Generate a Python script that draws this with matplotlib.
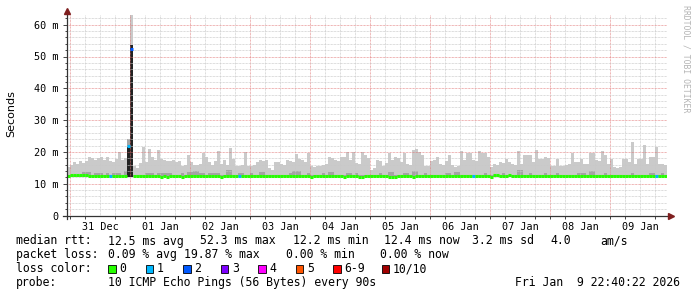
import matplotlib
matplotlib.use("Agg")
import matplotlib.pyplot as plt
import matplotlib.dates as mdates
from matplotlib.lines import Line2D
from matplotlib.patches import Rectangle
from datetime import datetime, timedelta
import numpy as np

# ---- data ----
start = datetime(2025, 12, 30, 22, 40, 22)
step_min = 72          # one smoke column = 72 minutes
smoke_floor = 12.0     # fastest ping, ms

# upper edge of the light smoke per step (ms)
smoke_hi = [
    15.2, 15.8, 16.8, 16.2, 17.2, 16.5, 17.0, 18.5, 18.0, 17.6,
    18.0, 18.3, 17.5, 18.5, 17.0, 16.8, 17.8, 20.0, 17.5, 18.2,
    24.0, 63.0, 15.5, 15.0, 16.6, 21.5, 16.8, 20.8, 18.3, 17.5,
    20.5, 17.7, 17.5, 17.0, 17.0, 17.3, 16.8, 17.0, 15.7, 16.0,
    18.9, 16.8, 16.0, 15.8, 16.2, 19.7, 18.5, 16.8, 16.0, 17.2,
    20.4, 16.2, 17.5, 16.0, 21.2, 17.8, 15.7, 15.5, 16.0, 20.0,
    15.7, 15.5, 16.0, 16.8, 17.3, 17.0, 17.3, 15.0, 14.2, 16.7,
    16.8, 16.2, 16.0, 17.3, 17.0, 16.7, 19.2, 17.8, 17.6, 16.7,
    19.5, 15.5, 15.3, 15.7, 15.5, 15.8, 16.2, 18.3, 18.0, 17.3,
    17.0, 18.3, 18.3, 20.0, 17.5, 20.0, 16.5, 16.3, 20.0, 18.9,
    18.0, 14.2, 15.0, 17.3, 17.0, 15.7, 16.5, 19.7, 17.3, 18.3,
    18.0, 16.7, 19.8, 16.2, 16.0, 20.5, 20.8, 20.0, 18.9, 15.7,
    15.5, 17.0, 17.3, 18.3, 16.2, 16.0, 17.0, 18.9, 16.0, 15.2,
    15.7, 20.4, 17.3, 19.7, 19.5, 17.3, 17.0, 20.4, 19.8, 19.7,
    18.5, 15.2, 16.2, 16.0, 16.7, 16.5, 17.8, 16.7, 16.2, 16.0,
    20.4, 16.2, 18.9, 18.9, 19.0, 16.7, 20.6, 17.8, 17.8, 18.3,
    18.0, 15.7, 15.5, 17.8, 15.7, 15.5, 15.8, 16.2, 19.7, 16.7,
    16.7, 17.8, 16.2, 16.2, 19.7, 19.5, 17.3, 17.0, 20.4, 18.9,
    16.2, 17.8, 15.2, 15.0, 15.2, 17.8, 17.8, 16.7, 23.1, 16.2,
    17.8, 17.8, 22.3, 16.2, 18.3, 18.3, 21.5, 16.2, 16.2, 16.0,
]

# upper edge of the denser (darker) smoke per step (ms)
smoke_mid = [
    12.8, 12.8, 12.8, 12.8, 12.8, 13.6, 13.6, 13.6, 12.8, 13.3,
    13.3, 13.3, 12.8, 13.4, 12.8, 13.5, 13.5, 13.5, 12.8, 14.0,
    24.0, 53.5, 12.8, 12.8, 12.8, 12.8, 13.5, 13.5, 13.5, 12.8,
    13.4, 13.4, 13.4, 13.3, 13.3, 12.8, 12.8, 12.8, 13.5, 12.8,
    13.6, 13.6, 14.0, 14.0, 13.3, 13.5, 12.8, 13.4, 13.4, 13.4,
    13.4, 12.8, 12.8, 14.2, 14.2, 12.8, 12.8, 13.4, 13.4, 12.8,
    12.8, 13.3, 12.8, 12.8, 13.8, 13.8, 12.8, 12.8, 12.8, 12.8,
    12.8, 12.8, 12.8, 12.8, 13.4, 14.0, 14.0, 14.0, 12.8, 12.8,
    13.4, 12.8, 12.8, 12.8, 12.8, 13.3, 12.8, 13.6, 13.6, 12.8,
    12.8, 12.8, 12.8, 13.5, 13.5, 12.8, 13.3, 12.8, 12.8, 12.8,
    12.8, 12.8, 12.8, 12.8, 13.4, 12.8, 12.8, 13.8, 13.8, 12.8,
    12.8, 12.8, 13.5, 13.5, 12.8, 14.0, 14.0, 12.8, 12.8, 13.3,
    12.8, 12.8, 12.8, 12.8, 12.8, 12.8, 13.5, 13.5, 12.8, 13.8,
    13.8, 12.8, 12.8, 12.8, 12.8, 12.8, 12.8, 12.8, 12.8, 13.4,
    12.8, 12.8, 12.8, 12.8, 12.8, 13.3, 12.8, 12.8, 12.8, 12.8,
    14.2, 14.2, 12.8, 12.8, 13.4, 12.8, 12.8, 12.8, 12.8, 13.3,
    12.8, 12.8, 12.8, 13.4, 12.8, 12.8, 12.8, 12.8, 12.8, 12.8,
    13.5, 13.5, 13.5, 12.8, 14.0, 14.0, 12.8, 12.8, 12.8, 13.3,
    12.8, 12.8, 12.8, 12.8, 12.8, 12.8, 12.8, 12.8, 13.5, 12.8,
    12.8, 12.8, 12.8, 12.8, 13.5, 13.5, 12.8, 12.8, 13.3, 12.8,
]

# the outage spike: nearly black core of the smoke
core_steps = [20, 21]
core_top = [21.5, 53.5]

# median rtt per step (ms)
median = [
    12.4, 12.6, 12.6, 12.6, 12.6, 12.6, 12.6, 12.4, 12.4, 12.4,
    12.4, 12.4, 12.4, 12.4, 12.3, 12.4, 12.4, 12.4, 12.4, 12.4,
    22.0, 52.3, 12.4, 12.4, 12.4, 12.4, 12.4, 12.4, 12.4, 12.4,
    12.4, 12.1, 12.4, 12.1, 12.4, 12.4, 12.4, 12.4, 12.1, 12.4,
    12.4, 12.4, 12.4, 12.4, 12.4, 12.4, 12.4, 12.4, 12.4, 12.4,
    12.4, 12.1, 12.4, 12.4, 12.4, 12.4, 12.4, 12.3, 12.4, 12.4,
    12.4, 12.4, 12.4, 12.4, 12.4, 12.4, 12.4, 12.4, 12.4, 12.4,
    12.4, 12.4, 12.4, 12.4, 12.4, 12.4, 12.4, 12.4, 12.4, 12.4,
    12.4, 12.1, 12.4, 12.4, 12.4, 12.4, 12.4, 12.4, 12.4, 12.4,
    12.4, 12.4, 12.1, 12.4, 12.4, 12.4, 12.4, 12.1, 12.1, 12.4,
    12.4, 12.4, 12.4, 12.4, 12.4, 12.4, 12.4, 12.1, 12.1, 12.1,
    12.4, 12.4, 12.4, 12.4, 12.4, 12.1, 12.4, 12.4, 12.4, 12.4,
    12.4, 12.4, 12.4, 12.4, 12.4, 12.4, 12.4, 12.4, 12.4, 12.4,
    12.4, 12.4, 12.4, 12.4, 12.4, 12.4, 12.4, 12.4, 12.4, 12.4,
    12.4, 12.1, 12.6, 12.6, 12.4, 12.4, 12.4, 12.6, 12.4, 12.4,
    12.4, 12.4, 12.4, 12.4, 12.4, 12.4, 12.4, 12.4, 12.4, 12.4,
    12.4, 12.4, 12.4, 12.4, 12.4, 12.4, 12.4, 12.4, 12.4, 12.4,
    12.4, 12.4, 12.4, 12.4, 12.4, 12.4, 12.4, 12.4, 12.4, 12.4,
    12.4, 12.4, 12.4, 12.4, 12.4, 12.4, 12.4, 12.4, 12.4, 12.4,
    12.4, 12.4, 12.4, 12.4, 12.4, 12.4, 12.4, 12.4, 12.4, 12.4,
]

# steps with lost pings (index, pings lost of 10)
loss_steps = [14, 20, 21, 57, 135, 196]
loss_count = [1, 1, 2, 1, 1, 1]

loss_labels = ["0", "1", "2", "3", "4", "5", "6-9", "10/10"]
loss_colors = ["#26ff00", "#00b8ff", "#0059ff", "#7e00ff",
               "#ff00ff", "#ff5500", "#ff0000", "#a10000"]

ytick_vals = [0, 10, 20, 30, 40, 50, 60]
ytick_labels = ["0", "10 m", "20 m", "30 m", "40 m", "50 m", "60 m"]

rtt_items = [("median rtt:", 16), ("12.5 ms avg", 107.5), ("52.3 ms max", 200),
             ("12.2 ms min", 293), ("12.4 ms now", 383.5), ("3.2 ms sd", 471.5),
             ("4.0", 550), ("am/s", 600)]
loss_items = [("packet loss:", 16), ("0.09 % avg", 107.5), ("19.87 % max", 184.5),
              ("0.00 % min", 286.5), ("0.00 % now", 380.5)]
probe_text = "10 ICMP Echo Pings (56 Bytes) every 90s"
stamp_text = "Fri Jan  9 22:40:22 2026"

# ---- figure ----
W, H = 697, 297
MONO = "DejaVu Sans Mono"
fig = plt.figure(figsize=(W / 100, H / 100), dpi=100)
fig.patch.set_facecolor("white")


def fx(px):
    return px / W


def fy(py):
    return 1 - py / H


ax_left, ax_right, ax_top, ax_bot = 67, 667, 15, 215.5
ax = fig.add_axes([fx(ax_left), fy(ax_bot), (ax_right - ax_left) / W, (ax_bot - ax_top) / H])
ax.set_facecolor("white")

n = len(smoke_hi)
t0 = mdates.date2num(start)
step = step_min / 1440.0
tl = t0 + np.arange(n) * step
hi = np.array(smoke_hi)
mid = np.array(smoke_mid)

ax.bar(tl, hi - smoke_floor, bottom=smoke_floor, width=step, align="edge",
       color="#cacaca", linewidth=0, zorder=2)
ax.bar(tl, mid - smoke_floor, bottom=smoke_floor, width=step, align="edge",
       color="#a4a4a4", linewidth=0, zorder=3)
ax.bar(tl[core_steps], np.array(core_top) - smoke_floor, bottom=smoke_floor,
       width=step, align="edge", color="#222222", linewidth=0, zorder=4)

# grid (rrdtool paints it over the smoke)
dots = (0, (0.72, 0.72))
h6 = mdates.date2num(datetime(2025, 12, 31, 0, 0)) + np.arange(0, 40) * 0.25
for i, x in enumerate(h6):
    major = i % 4 == 0
    ax.axvline(x, color="#e07070" if major else "#c8c8c8", lw=0.72,
               linestyle=dots, alpha=0.7 if major else 0.85, zorder=5)
for v in np.arange(2, 64, 2):
    major = v % 10 == 0
    ax.axhline(v, color="#e07070" if major else "#c8c8c8", lw=0.72,
               linestyle=dots, alpha=0.7 if major else 0.85, zorder=5)

# median line, coloured by loss
med = np.array(median)
cols = [loss_colors[0]] * n
for s, c in zip(loss_steps, loss_count):
    cols[s] = loss_colors[c]
ax.hlines(med, tl, tl + step, colors=cols, linewidth=2.2, zorder=6)

ax.set_xlim(t0, t0 + n * step)
ax.set_ylim(0, (ax_bot - ax_top) / 3.18)
for sp in ax.spines.values():
    sp.set_visible(False)

noons = mdates.date2num(datetime(2025, 12, 31, 12, 0)) + np.arange(10)
ax.set_xticks(noons)
ax.set_xticklabels([mdates.num2date(d).strftime("%d %b") for d in noons],
                   family=MONO, fontsize=7.3)
ax.set_xticks(h6, minor=True)
ax.set_yticks(ytick_vals)
ax.set_yticklabels(ytick_labels, family=MONO, fontsize=7.3)
ax.set_yticks(np.arange(2, 64, 2), minor=True)
ax.tick_params(axis="x", which="major", length=0, pad=5)
ax.tick_params(axis="x", which="minor", length=2, width=0.7, color="#444444")
ax.tick_params(axis="y", which="major", length=3, width=0.7, color="#444444", pad=3)
ax.tick_params(axis="y", which="minor", length=1.5, width=0.7, color="#444444")

# axes with arrows
fig.add_artist(Line2D([fx(ax_left), fx(ax_left)], [fy(219), fy(11)], color="#333333",
                      lw=0.9, transform=fig.transFigure))
fig.add_artist(Line2D([fx(63), fx(670)], [fy(ax_bot), fy(ax_bot)], color="#333333",
                      lw=0.9, transform=fig.transFigure))
fig.add_artist(Line2D([fx(ax_left)], [fy(10.5)], marker="^", markersize=4.5,
                      color="#7f1f1f", lw=0, transform=fig.transFigure))
fig.add_artist(Line2D([fx(671)], [fy(ax_bot)], marker=">", markersize=4.5,
                      color="#7f1f1f", lw=0, transform=fig.transFigure))

# labels
fig.text(fx(11), fy(113.5), "Seconds", rotation=90, ha="center", va="center",
         fontsize=8, family="DejaVu Sans")
fig.text(fx(686), fy(59), "RRDTOOL / TOBI OETIKER", rotation=270, ha="center",
         va="center", fontsize=5.9, family=MONO, color="#b4b4b4")

# legend
FS = 8.3
for txt, x in rtt_items:
    fig.text(fx(x), fy(241), txt, family=MONO, fontsize=FS, va="center")
for txt, x in loss_items:
    fig.text(fx(x), fy(254.5), txt, family=MONO, fontsize=FS, va="center")
fig.text(fx(16), fy(268.5), "loss color:", family=MONO, fontsize=FS, va="center")
box_x = [108, 145.5, 183, 220.5, 258, 295.5, 333, 381.5]
for bx, lab, col in zip(box_x, loss_labels, loss_colors):
    fig.add_artist(Rectangle((fx(bx), fy(272.5)), 7.5 / W, 8 / H, facecolor=col,
                             edgecolor="black", lw=0.6, transform=fig.transFigure))
    fig.text(fx(bx + 11.5), fy(268.5), lab, family=MONO, fontsize=FS, va="center")
fig.text(fx(16), fy(282.5), "probe:", family=MONO, fontsize=FS, va="center")
fig.text(fx(107.5), fy(282.5), probe_text, family=MONO, fontsize=FS, va="center")
fig.text(fx(680), fy(282.5), stamp_text, family=MONO, fontsize=FS, va="center", ha="right")

fig.savefig("out.png", dpi=100, facecolor="white")
